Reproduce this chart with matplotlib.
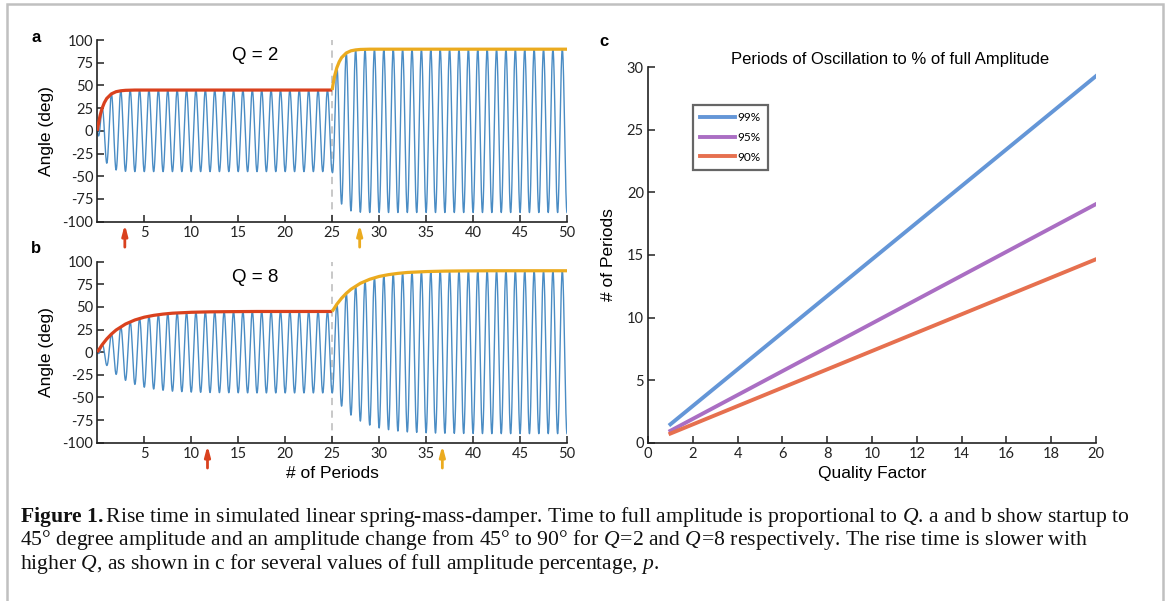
import numpy as np
import matplotlib
matplotlib.use("Agg")
import matplotlib.pyplot as plt
from matplotlib.patches import Rectangle

plt.rcParams['font.family'] = ['Liberation Sans', 'DejaVu Sans']
plt.rcParams['axes.unicode_minus'] = False
plt.rcParams['mathtext.fontset'] = 'custom'
plt.rcParams['mathtext.rm'] = 'Liberation Serif'
plt.rcParams['mathtext.it'] = 'Liberation Serif:italic'
plt.rcParams['mathtext.bf'] = 'Liberation Serif:bold'

# ---- panel a / b : amplitude envelope readings (deg) ----
# times (periods) after each amplitude step, and envelope values
rise_t_a = [0, 0.1, 0.2, 0.3, 0.5, 0.75, 1.0, 1.5, 2.0, 2.5, 3.0, 4.0]
rise_t_b = [0, 0.5, 1, 1.5, 2, 3, 4, 5, 6, 7, 8, 10, 12, 14, 17]
env_start_a = [0, 6.5, 12, 17, 24.5, 31, 35.6, 40.7, 43.1, 44.1, 44.6, 44.9]
env_step_a = [45, 51.5, 57, 62, 69.5, 76, 80.6, 85.7, 88.1, 89.1, 89.6, 89.9]
env_start_b = [0, 8, 14.6, 20, 24.5, 31.1, 35.6, 38.7, 40.7, 42.1, 43.1, 44.1, 44.6, 44.8, 45]
env_step_b = [45, 53, 59.6, 65, 69.5, 76.1, 80.6, 83.7, 85.7, 87.1, 88.1, 89.1, 89.6, 89.8, 90]
step_period = 25
n_periods = 50
q_labels = ["Q = 2", "Q = 8"]
rise99 = [2.93, 11.73]   # arrows: 99% rise time in periods

# ---- panel c ----
quality = [1, 20]
periods_99 = [1.47, 29.3]
periods_95 = [0.95, 19.07]
periods_90 = [0.73, 14.66]

RED = "#d9411e"
ORANGE = "#ebab1f"
BLUE = "#4a8cc4"
TICKFONT = "Lato"

W, H = 1167, 601
fig = plt.figure(figsize=(W / 100, H / 100), dpi=100)


def px_axes(left, top, right, bottom):
    return fig.add_axes([left / W, 1 - bottom / H, (right - left) / W, (bottom - top) / H])


def style_axes(ax):
    ax.spines['top'].set_visible(False)
    ax.spines['right'].set_visible(False)
    for s in ('left', 'bottom'):
        ax.spines[s].set_linewidth(1.2)
        ax.spines[s].set_color('#222222')
    ax.tick_params(direction='in', length=5, width=1.1, labelsize=10.5, pad=3, colors='#222222')
    for lab in ax.get_xticklabels() + ax.get_yticklabels():
        lab.set_fontfamily(TICKFONT)


def osc_panel(ax, rise_t, env_start, env_step, qlab, r99, show_xlabel):
    t_env = list(rise_t) + [step_period] + [step_period + x for x in rise_t] + [n_periods]
    v_env = list(env_start) + [env_start[-1]] + list(env_step) + [env_step[-1]]
    t = np.linspace(0, n_periods, 6001)
    env = np.interp(t, t_env, v_env)
    ax.axvline(step_period, color='#c4c4c4', lw=1.3, ls=(0, (4, 3)), zorder=1)
    ax.plot(t, -env * np.cos(2 * np.pi * t), color=BLUE, lw=1.0, zorder=2)
    n1 = len(rise_t) + 1
    ax.plot(t_env[:n1], v_env[:n1], color=RED, lw=2.3, zorder=3, solid_capstyle='butt')
    ax.plot(t_env[n1:], v_env[n1:], color=ORANGE, lw=2.3, zorder=3, solid_capstyle='butt')
    ax.set_xlim(0, n_periods)
    ax.set_ylim(-100, 100)
    ax.set_xticks(range(5, 51, 5))
    ax.set_yticks(range(-100, 101, 25))
    ax.set_ylabel("Angle (deg)", fontsize=12.5, labelpad=6)
    if show_xlabel:
        ax.set_xlabel("# of Periods", fontsize=12.5, labelpad=4)
    style_axes(ax)
    ax.text(16.8, 83, qlab, fontsize=13.5, ha='center', va='center')
    for x0, c in ((r99, RED), (step_period + r99, ORANGE)):
        ax.annotate("", xy=(x0, -0.015), xytext=(x0, -0.14),
                    xycoords=('data', 'axes fraction'), textcoords=('data', 'axes fraction'),
                    arrowprops=dict(arrowstyle='-|>,head_length=0.6,head_width=0.16', color=c, lw=2.0,
                                    shrinkA=0, shrinkB=0),
                    annotation_clip=False)


ax_a = px_axes(97.3, 40, 567, 221.7)
osc_panel(ax_a, rise_t_a, env_start_a, env_step_a, q_labels[0], rise99[0], False)
ax_b = px_axes(97.3, 261.7, 567, 442.7)
osc_panel(ax_b, rise_t_b, env_start_b, env_step_b, q_labels[1], rise99[1], True)

# panel c
ax_c = px_axes(648, 67.3, 1096, 442.7)
ax_c.plot(quality, periods_99, color="#6496d7", lw=2.8, label="99%")
ax_c.plot(quality, periods_95, color="#aa6ec3", lw=2.8, label="95%")
ax_c.plot(quality, periods_90, color="#e6704f", lw=2.8, label="90%")
ax_c.set_xlim(0, 20)
ax_c.set_ylim(0, 30)
ax_c.set_xticks(range(0, 21, 2))
ax_c.set_yticks(range(0, 31, 5))
ax_c.set_xlabel("Quality Factor", fontsize=12.5, labelpad=4)
ax_c.set_ylabel("# of Periods", fontsize=12.5, labelpad=8)
ax_c.set_title("Periods of Oscillation to % of full Amplitude", fontsize=12, pad=1, x=0.54)
style_axes(ax_c)
leg = ax_c.legend(loc='upper left', bbox_to_anchor=(0.1, 0.9), fontsize=8.5, frameon=True,
                  fancybox=False, handlelength=3.0, handletextpad=0.2, labelspacing=0.75,
                  borderpad=0.6, borderaxespad=0)
leg.get_frame().set_edgecolor('#404040')
leg.get_frame().set_linewidth(1.6)
for txt in leg.get_texts():
    txt.set_fontfamily(TICKFONT)

# panel letters
fig.text(36 / W, 1 - 37 / H, "a", fontsize=12, fontweight='bold', ha='center', va='center')
fig.text(36 / W, 1 - 248 / H, "b", fontsize=12, fontweight='bold', ha='center', va='center')
fig.text(604 / W, 1 - 42 / H, "c", fontsize=12, fontweight='bold', ha='center', va='center')

# caption
caption = [
    r"$\mathbf{Figure\ 1.}$Rise time in simulated linear spring-mass-damper. Time to full amplitude is proportional to $Q$. a and b show startup to",
    r"45° degree amplitude and an amplitude change from 45° to 90° for $Q\!=\!2$ and $Q\!=\!8$ respectively. The rise time is slower with",
    r"higher $Q$, as shown in c for several values of full amplitude percentage, $p$.",
]
for i, line in enumerate(caption):
    fig.text(20 / W, 1 - (517 + 23.5 * i) / H, line, fontsize=15.6, family='Liberation Serif',
             ha='left', va='center', color='#111111')

# frame around the figure panel
fig.patches.append(Rectangle((7 / W, -0.1), (1163 - 7) / W, 1 - 4 / H + 0.1, transform=fig.transFigure,
                             fill=False, edgecolor='#c0c0c0', lw=1.8))

fig.savefig("out.png", dpi=100)
